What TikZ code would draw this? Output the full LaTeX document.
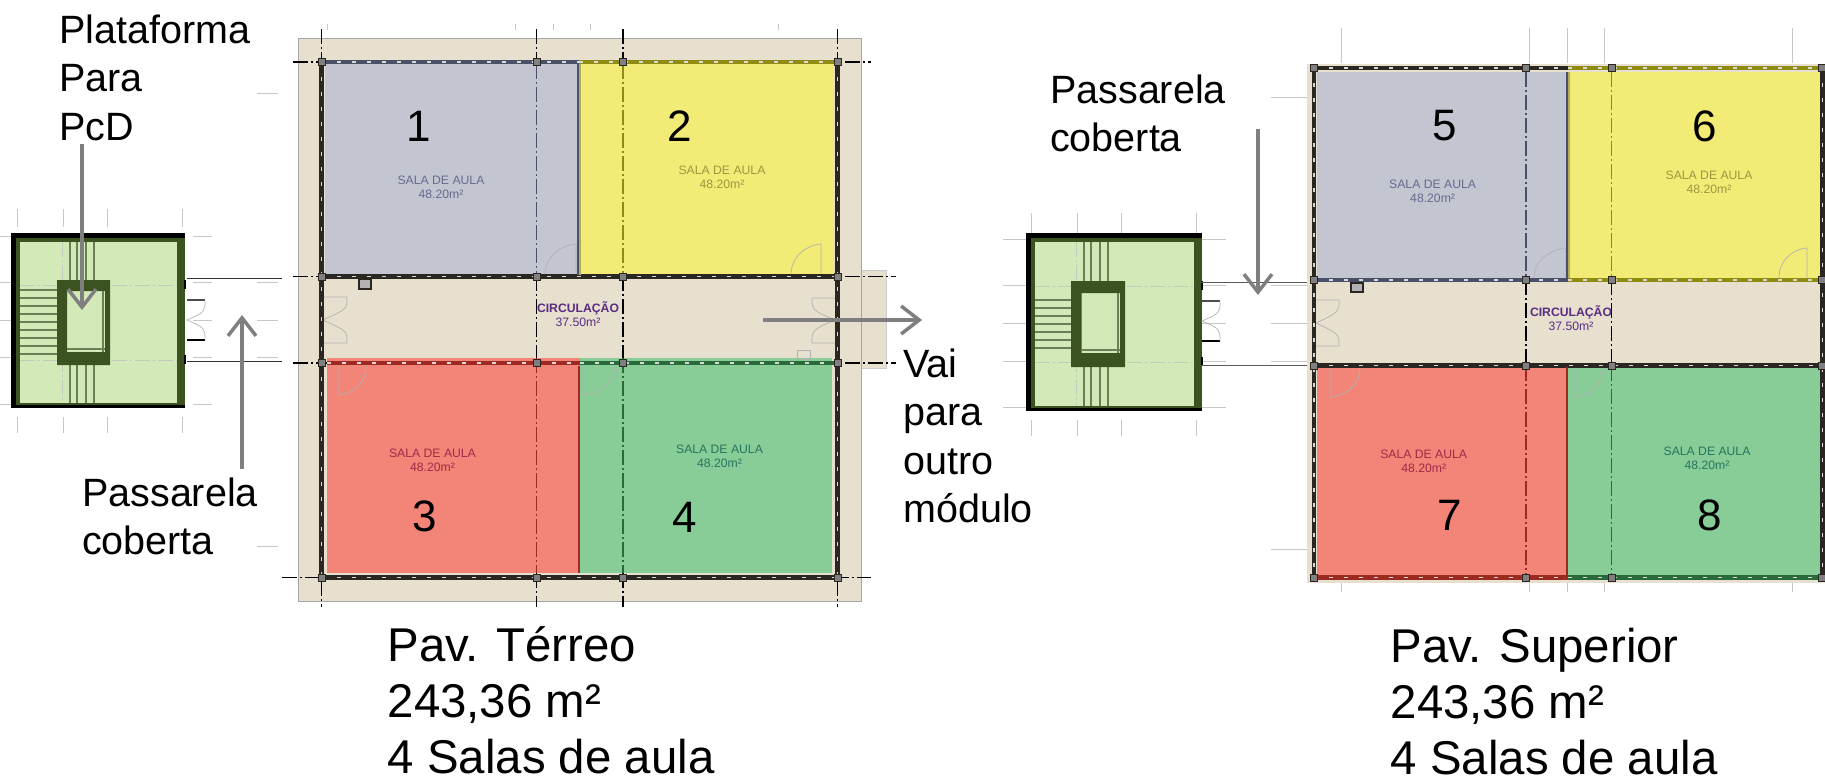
\documentclass[tikz,border=0pt]{standalone}
\usepackage{fontspec}
\setmainfont{Liberation Sans}
\usetikzlibrary{arrows.meta}
\definecolor{plangray}{HTML}{C3C6D0}
\definecolor{planyellow}{HTML}{F2EB75}
\definecolor{planred}{HTML}{F28478}
\definecolor{plangreen}{HTML}{88CC98}
\definecolor{planfloor}{HTML}{E7E0CF}
\definecolor{stairgreen}{HTML}{D3EAB8}
\definecolor{wallgreen}{HTML}{3B5320}
\definecolor{wallgray}{HTML}{4A5068}
\definecolor{wallyellow}{HTML}{8F8A10}
\definecolor{wallred}{HTML}{9C2A22}
\definecolor{walldarkgreen}{HTML}{2A6A3A}
\definecolor{wallblack}{HTML}{2A2622}
\definecolor{textgray}{HTML}{666A90}
\definecolor{textyellow}{HTML}{9C9840}
\definecolor{textred}{HTML}{A02A48}
\definecolor{textgreen}{HTML}{27755C}
\definecolor{textpurple}{HTML}{5B2C83}
\definecolor{notegray}{HTML}{7F7F7F}
\tikzstyle{wall} = [line width=4.5pt]
\tikzstyle{wallmark} = [white!85!black,line width=1.1pt,dash pattern=on 4pt off 11pt]
\tikzstyle{axis} = [line width=1.5pt,dash pattern=on 15pt off 3pt on 2pt off 3pt]
\tikzstyle{tick} = [black!22,line width=1pt]
\tikzstyle{door} = [black!30,line width=0.7pt]
\tikzstyle{column} = [draw=wallblack,fill=black!50,line width=1pt,minimum size=7pt,inner sep=0pt]
\tikzstyle{stepline} = [wallgreen!75,line width=1.2pt]
\tikzstyle{stairaxis} = [wallgreen!30,line width=1pt,dash pattern=on 15pt off 3pt on 2pt off 3pt]
\tikzstyle{note} = [->,notegray,line width=3.5pt,>={Straight Barb[length=18pt,width=28pt,line width=3.5pt]}]
\tikzstyle{walkway} = [black!80,line width=1pt]
\tikzstyle{callout} = [anchor=north west,inner sep=0pt,align=left,font=\fontsize{39.5}{48.5}\selectfont]
\tikzstyle{caption} = [anchor=north west,inner sep=0pt,align=left,font=\fontsize{47.4}{56}\selectfont]
\tikzstyle{roomnumber} = [inner sep=0pt,font=\fontsize{44}{44}\selectfont]
\tikzstyle{roomlabel} = [inner sep=0pt,align=center,font=\fontsize{12.2}{14}\selectfont]
\begin{document}
\begin{tikzpicture}[x=1pt,y=-1pt]

    \useasboundingbox (0,0) rectangle (1825,781);

    % floor of both plans
    \fill[planfloor] (298.5,38.5) rectangle (861.7,601.7);
    \fill[planfloor] (861,270) rectangle (886,368);
    \fill[planfloor] (1307,64) rectangle (1825,583);
    \draw[black!35,line width=0.8pt] (298.5,38.5) rectangle (861.7,601.7);
    \draw[black!20,line width=0.8pt] (861.7,270) -- (886,270) -- (886,368) -- (861.7,368);

    % rooms
    \foreach \xa/\ya/\xb/\yb/\col in {325/64/578.6/275/plangray, 580/64/833/275/planyellow,
        327/358/580/573/planred, 580/358/832/573/plangreen,
        1317/72/1568/278/plangray, 1568/72/1822/278/planyellow,
        1317/367/1568/576/planred, 1568/367/1822/576/plangreen}
        \fill[\col] (\xa,\ya) rectangle (\xb,\yb);

    % light ticks round the plans
    \foreach \xa/\ya/\yb in {327/24/30, 515/24/30, 553/24/30, 590/24/30, 778/24/30,
        1341/28/63, 1529.5/28/63, 1567/28/63, 1604/28/63, 1792/28/63,
        1341/583/592, 1529.5/583/592, 1567/583/592, 1604/583/592, 1792/583/592,
        17/209/227, 63.5/209/227, 107/209/227, 182/209/227,
        17/417/433, 63.5/417/433, 107/417/433, 182/417/433,
        1031/213/233, 1077/213/233, 1121/213/233, 1196/213/233,
        1031/420/436, 1077/420/436, 1121/420/436, 1196/420/436}
        \draw[tick] (\xa,\ya) -- (\xa,\yb);
    \foreach \xa/\xb/\ya in {257/278/94, 257/278/282, 257/278/320, 257/278/357, 257/278/546,
        1271/1307/98, 1271/1307/285, 1271/1307/323, 1271/1307/361, 1271/1307/549,
        0/11/236, 0/11/282, 0/11/320, 0/11/357, 0/11/404,
        193/212/236, 193/212/282, 193/212/320, 193/212/357, 193/212/404,
        1003/1026/239, 1003/1026/285, 1003/1026/323, 1003/1026/361, 1003/1026/407,
        1202/1226/239, 1202/1226/285, 1202/1226/323, 1202/1226/361, 1202/1226/407}
        \draw[tick] (\xa,\ya) -- (\xb,\ya);

    % column axes
    \foreach \xa/\ya/\yb/\col in {321.5/29/607/black, 536.5/29/64/black, 536.5/64/276/wallgray,
        536.5/276/358/black, 536.5/358/573/wallred, 536.5/573/607/black,
        623/29/64/black, 623/64/276/wallyellow, 623/276/358/black,
        623/358/573/walldarkgreen, 623/573/607/black, 837.7/29/607/black,
        1526/72/280/wallgray, 1526/280/366/black, 1526/366/578/wallred,
        1611.6/72/280/wallyellow, 1611.6/280/366/black, 1611.6/366/578/walldarkgreen}
        \draw[axis,\col] (\xa,\ya) -- (\xa,\yb);
    \foreach \xa/\xb/\ya in {293/871/62, 293/896/276.7, 293/896/363, 282/871/577.7}
        \draw[axis,black] (\xa,\ya) -- (\xb,\ya);

    % doors
    \foreach \xa/\ya/\xb/\yb in {545/275/576/244, 791/275/821/244, 1534/278/1566/248, 1779/278/1807/248}
        \draw[door] (\xa,\ya) .. controls (\xa,\yb+8) and (\xb-8,\yb) .. (\xb,\yb) -- (\xb,\ya);
    \foreach \xa/\ya/\xb/\yb in {339/366/366/395, 582/366/615/395, 1331/367/1360/397, 1574/367/1603/397}
        \draw[door] (\xb,\ya) .. controls (\xb,\yb-8) and (\xa+8,\yb) .. (\xa,\yb) -- (\xa,\ya);
    \foreach \xa/\xb/\ya in {323/347/297, 1316/1339/300}
        \draw[door] (\xa,\ya) -- (\xb,\ya) .. controls (\xb,\ya+12) .. (\xa,\ya+23)
            .. controls (\xb,\ya+34) .. (\xb,\ya+46) -- (\xa,\ya+46);
    \draw[door] (835,298) -- (812,298) .. controls (812,310) .. (835,320)
        .. controls (812,330) .. (812,343) -- (835,343);
    \draw[door] (797,350) rectangle (810,359);
    \foreach \xa/\ya/\xb/\yb in {359/279/371/289, 1351/283/1363/292}
        \draw[wallblack,fill=black!30,line width=1.2pt] (\xa,\ya) rectangle (\xb,\yb);

    % walls
    \foreach \xa/\ya/\xb/\yb/\col in {321.5/62/579/62/wallgray, 579/62/837.7/62/wallyellow,
        321.5/276.7/837.7/276.7/wallblack, 327/363/580/363/wallred, 580/363/837.7/363/walldarkgreen,
        321.5/577.7/837.7/577.7/wallblack, 321.5/62/321.5/577.7/wallblack, 837.7/62/837.7/577.7/wallblack,
        1314/68/1568/68/wallblack, 1568/68/1825/68/wallyellow,
        1314/280/1568/280/wallgray, 1568/280/1825/280/wallyellow,
        1314/365.7/1825/365.7/wallblack,
        1314/577.7/1568/577.7/wallred, 1568/577.7/1825/577.7/walldarkgreen,
        1314/68/1314/577.7/wallblack, 1822.6/68/1822.6/577.7/wallblack}
        {
        \draw[wall,\col] (\xa,\ya) -- (\xb,\yb);
        \draw[wallmark] (\xa,\ya) -- (\xb,\yb);
        }
    \draw[line width=2pt,wallyellow!70] (580,64) -- (580,275) (1568.5,72) -- (1568.5,278);
    \draw[line width=1.5pt,wallgray] (578,64) -- (578,275) (1567,72) -- (1567,278);
    \draw[line width=1.5pt,wallred] (579,366) -- (579,573) (1567,367) -- (1567,576);

    % columns
    \foreach \pos/\name in {{(321.5,62)/a}, {(536.5,62)/b}, {(623,62)/c}, {(837.7,62)/d},
        {(321.5,276.7)/e}, {(536.5,276.7)/f}, {(623,276.7)/g}, {(837.7,276.7)/h},
        {(321.5,363)/i}, {(536.5,363)/j}, {(623,363)/k}, {(837.7,363)/l},
        {(321.5,577.7)/m}, {(536.5,577.7)/n}, {(623,577.7)/o}, {(837.7,577.7)/p},
        {(1314,68)/q}, {(1526,68)/r}, {(1611.6,68)/s}, {(1822,68)/t},
        {(1314,280)/u}, {(1526,280)/v}, {(1611.6,280)/w}, {(1822,280)/x},
        {(1314,365.7)/y}, {(1526,365.7)/z}, {(1611.6,365.7)/aa}, {(1822,365.7)/ab},
        {(1314,577.7)/ac}, {(1526,577.7)/ad}, {(1611.6,577.7)/ae}, {(1822,577.7)/af}}
        \node[column] (col\name) at \pos {};

    % stairs
    \foreach \sxa/\sxb/\sya/\syb/\cxa/\cxb/\cya/\cyb/\hxa/\hxb/\hya/\hyb/\sta/\stn/\lnx in {
        11/185/233/408/57/110/280/365/67/105/291/352/290/8/187,
        1026/1201.6/233/411/1071/1125/281/367/1081.5/1120/293/353/300/6/1202}
        {
        \fill[wallgreen] (\sxa,\sya) rectangle (\sxb,\syb);
        \fill[stairgreen] (\sxa+9,\sya+9) rectangle (\sxb-8,\syb-5);
        \draw[stairaxis] (\sxa+9,\cya+5) -- (\sxb-8,\cya+5);
        \draw[stairaxis] (\sxa+9,\cyb-5) -- (\sxb-8,\cyb-5);
        \draw[stairaxis] (\cxa+5,\sya+9) -- (\cxa+5,\syb-5);
        \fill (\sxa,\sya) rectangle (\sxa+5,\syb);
        \fill (\sxa,\sya) rectangle (\sxb,\sya+5);
        \fill (\sxa,\syb-3) rectangle (\sxb,\syb);
        \fill (\sxb-1,\cya) rectangle (\sxb+1,\cya+9);
        \fill (\sxb-1,\cyb-10) rectangle (\sxb+1,\cyb-1);
        \foreach \i in {0,...,\stn}
            \draw[stepline] (\sxa+9,\sta+\i*8) -- (\cxa,\sta+\i*8);
        \foreach \i in {13,20,29,37}
            {
            \draw[stepline] (\cxa+\i,\sya+9) -- (\cxa+\i,\cya);
            \draw[stepline] (\cxa+\i,\cyb) -- (\cxa+\i,\syb-5);
            }
        \fill[wallgreen,even odd rule] (\cxa,\cya) rectangle (\cxb,\cyb) (\hxa,\hya) rectangle (\hxb,\hyb);
        \draw[stepline] (\hxb-2,\hya) -- (\hxb-2,\hyb);
        \draw[stepline] (\hxa,\hyb-3) -- (\hxb,\hyb-3);
        % walkway from the stairs to the plan
        \draw[line width=1.5pt,black!70] (\lnx,\cya+20) -- ++(18,0);
        \draw[line width=1.5pt] (\lnx,\cya+60) -- ++(18,0);
        \draw[door] (\lnx+18,\cya+20) .. controls (\lnx+18,\cya+32) .. (\lnx,\cya+40)
            .. controls (\lnx+18,\cya+48) .. (\lnx+18,\cya+60);
        }
    \draw[walkway] (187,278) -- (282,278);
    \draw[walkway] (187,361) -- (282,361);
    \draw[walkway,black!65] (1201,282) -- (1307,282);
    \draw[walkway,black!65] (1201,365) -- (1307,365);

    % room texts
    \foreach \pos/\name/\col in {{(441,187.5)/1/textgray}, {(722,177.5)/2/textyellow},
        {(432.5,460)/3/textred}, {(719.5,456)/4/textgreen}, {(1432.6,191)/5/textgray},
        {(1709,182)/6/textyellow}, {(1423.7,461)/7/textred}, {(1707,458)/8/textgreen}}
        \node[roomlabel,text=\col] (sala\name) at \pos {SALA DE AULA\\48.20m²};
    \foreach \pos/\name in {{(578,314)/a}, {(1571,318)/b}}
        \node[roomlabel,text=textpurple] (circ\name) at \pos {\textbf{CIRCULAÇÃO}\\37.50m²};

    \foreach \pos/\name in {{(419,126)/1}, {(680,126)/2}, {(425,516)/3}, {(685,517)/4},
        {(1445,126)/5}, {(1705,126)/6}, {(1450,515)/7}, {(1710,515)/8}}
        \node[roomnumber] (num\name) at \pos {\name};

    % callouts
    \node[callout] (plataforma) at (59,14.4) {Plataforma\\Para\\PcD};
    \node[callout] (passarelaa) at (82,477.4) {Passarela\\coberta};
    \node[callout] (passarelab) at (1050,74.4) {Passarela\\coberta};
    \node[callout] (vai) at (903,348.4) {Vai\\para\\outro\\módulo};
    \node[caption] (terreo) at (387.5,626) {Pav. Térreo\\243,36 m²\\4 Salas de aula};
    \node[caption] (superior) at (1390.5,628) {Pav. Superior\\243,36 m²\\4 Salas de aula};

    % grey arrows
    \coordinate (plataformaa) at (82,144);
    \coordinate (plataformab) at (82,310);
    \coordinate (passarelaaa) at (242,469);
    \coordinate (passarelaab) at (242,315);
    \coordinate (passarelaba) at (1258,129);
    \coordinate (passarelabb) at (1258,295);
    \coordinate (vaia) at (763,320);
    \coordinate (vaib) at (922,320);
    \foreach \source/ \dest in {plataformaa/plataformab, passarelaaa/passarelaab,
        passarelaba/passarelabb, vaia/vaib}
        \draw[note] (\source) -- (\dest);

\end{tikzpicture}
\end{document}
